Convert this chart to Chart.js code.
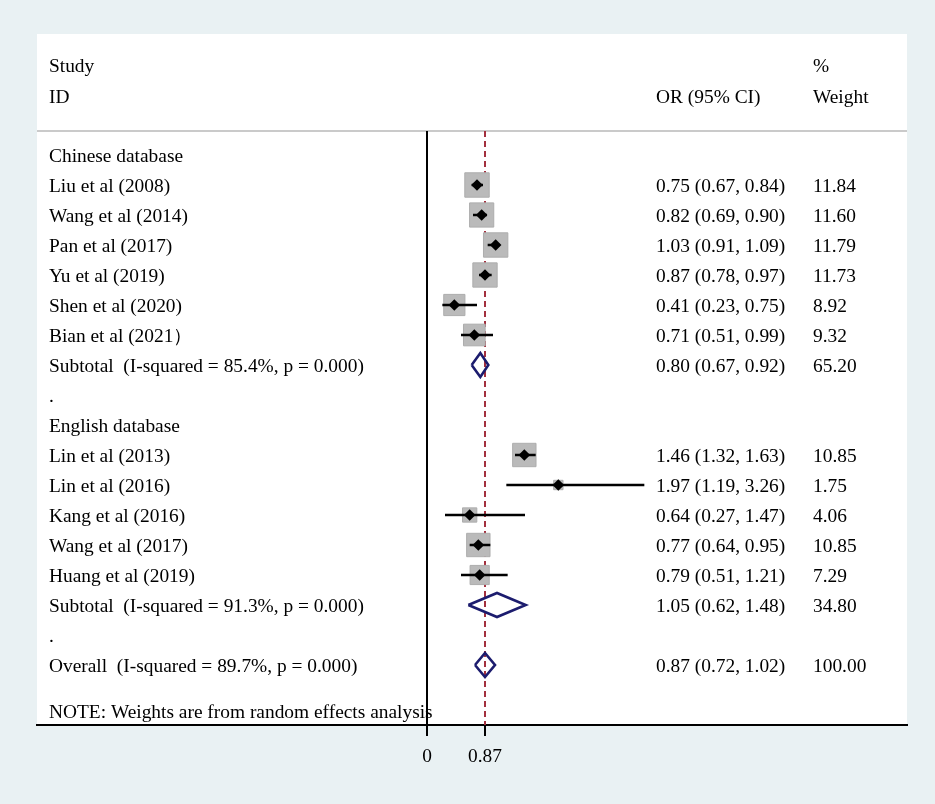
<!DOCTYPE html>
<html><head><meta charset="utf-8">
<script src="https://cdn.jsdelivr.net/npm/chart.js@4.4.1/dist/chart.umd.min.js"></script>
<style>html,body{margin:0;padding:0;background:#e9f1f3;overflow:hidden}canvas{display:block}</style>
</head><body>
<canvas id="c" width="935" height="804" style="width:935px;height:804px"></canvas>
<script>
// ---- data ----
const groupNames = ["Chinese database", "English database"];
const chineseStudies = ["Liu et al (2008)", "Wang et al (2014)", "Pan et al (2017)", "Yu et al (2019)", "Shen et al (2020)", "Bian et al (2021\uFF09"];
const chineseOR = [0.75, 0.82, 1.03, 0.87, 0.41, 0.71];
const chineseLo = [0.67, 0.69, 0.91, 0.78, 0.23, 0.51];
const chineseHi = [0.84, 0.90, 1.09, 0.97, 0.75, 0.99];
const chineseWeight = [11.84, 11.60, 11.79, 11.73, 8.92, 9.32];
const englishStudies = ["Lin et al (2013)", "Lin et al (2016)", "Kang et al (2016)", "Wang et al (2017)", "Huang et al (2019)"];
const englishOR = [1.46, 1.97, 0.64, 0.77, 0.79];
const englishLo = [1.32, 1.19, 0.27, 0.64, 0.51];
const englishHi = [1.63, 3.26, 1.47, 0.95, 1.21];
const englishWeight = [10.85, 1.75, 4.06, 10.85, 7.29];
const subtotalOR = [0.80, 1.05];
const subtotalLo = [0.67, 0.62];
const subtotalHi = [0.92, 1.48];
const subtotalWeight = [65.20, 34.80];
const subtotalI2 = ["85.4%", "91.3%"];
const subtotalP = ["0.000", "0.000"];
const overallOR = 0.87, overallLo = 0.72, overallHi = 1.02, overallWeight = 100.00;
const overallI2 = "89.7%", overallP = "0.000";
const xTicks = [0, 0.87];
const nullLine = 0;
const summaryLine = 0.87;

// ---- build rows ----
const rows = [];
const groups = [
  [chineseStudies, chineseOR, chineseLo, chineseHi, chineseWeight],
  [englishStudies, englishOR, englishLo, englishHi, englishWeight]
];
groups.forEach((g, gi) => {
  rows.push({label: groupNames[gi], type: 'head'});
  g[0].forEach((name, k) => rows.push({label: name, type: 'study', or: g[1][k], lo: g[2][k], hi: g[3][k], w: g[4][k]}));
  rows.push({label: 'Subtotal  (I-squared = ' + subtotalI2[gi] + ', p = ' + subtotalP[gi] + ')', type: 'pool',
    or: subtotalOR[gi], lo: subtotalLo[gi], hi: subtotalHi[gi], w: subtotalWeight[gi]});
  rows.push({label: '.', type: 'blank'});
});
rows.push({label: 'Overall  (I-squared = ' + overallI2 + ', p = ' + overallP + ')', type: 'pool',
  or: overallOR, lo: overallLo, hi: overallHi, w: overallWeight});

const studyRows = rows.map((r, i) => ({...r, i})).filter(r => r.type === 'study');
const poolRows = rows.map((r, i) => ({...r, i})).filter(r => r.type === 'pool');

const X_MIN = -5.85, X_MAX = 7.2, Y_MIN = -4.033, Y_MAX = 19.0, HEADER_Y = -0.8;

const datasets = [];
// pooled diamonds
poolRows.forEach(r => datasets.push({
  type: 'scatter', showLine: true, tension: 0, pointRadius: 0,
  borderColor: '#1c1c6e', borderWidth: 2.6, borderJoinStyle: 'miter',
  data: [{x: r.lo, y: r.i}, {x: r.or, y: r.i - 0.4}, {x: r.hi, y: r.i}, {x: r.or, y: r.i + 0.4}, {x: r.lo, y: r.i}]
}));
// point estimates
datasets.push({
  type: 'scatter', pointStyle: 'rectRot', pointRadius: 5.8, pointHoverRadius: 5.8,
  backgroundColor: '#000', borderColor: '#000', borderWidth: 0,
  data: studyRows.map(r => ({x: r.or, y: r.i}))
});
// confidence intervals
studyRows.forEach(r => datasets.push({
  type: 'scatter', showLine: true, pointRadius: 0, borderColor: '#000', borderWidth: 2.5,
  data: [{x: r.lo, y: r.i}, {x: r.hi, y: r.i}]
}));
// weight boxes
datasets.push({
  type: 'scatter', pointStyle: 'rect',
  pointRadius: studyRows.map(r => 7.1 * Math.sqrt(r.w) / Math.SQRT2),
  pointHoverRadius: studyRows.map(r => 7.1 * Math.sqrt(r.w) / Math.SQRT2),
  backgroundColor: '#bababa', borderColor: '#adadad', borderWidth: 1,
  data: studyRows.map(r => ({x: r.or, y: r.i}))
});
// summary dashed line
datasets.push({
  type: 'scatter', showLine: true, pointRadius: 0, borderColor: '#a3303e', borderWidth: 2, borderDash: [6, 4],
  data: [{x: summaryLine, y: HEADER_Y}, {x: summaryLine, y: Y_MAX}]
});
// null line
datasets.push({
  type: 'scatter', showLine: true, pointRadius: 0, borderColor: '#000', borderWidth: 2,
  data: [{x: nullLine, y: HEADER_Y}, {x: nullLine, y: Y_MAX}]
});
// header separator
datasets.push({
  type: 'scatter', showLine: true, pointRadius: 0, borderColor: '#cacaca', borderWidth: 2,
  data: [{x: X_MIN, y: HEADER_Y}, {x: X_MAX, y: HEADER_Y}]
});

const FONT = '19.4px "Liberation Serif", "Times New Roman", serif';
const textPlugin = {
  id: 'forestText',
  beforeDraw(chart) {
    const {ctx, chartArea: a} = chart;
    ctx.save();
    ctx.fillStyle = '#ffffff';
    ctx.fillRect(a.left, a.top, a.right - a.left, a.bottom - a.top);
    ctx.restore();
  },
  afterDatasetsDraw(chart) {
    const {ctx} = chart;
    const ys = chart.scales.y;
    ctx.save();
    ctx.font = FONT;
    ctx.fillStyle = '#000';
    ctx.textBaseline = 'middle';
    ctx.textAlign = 'left';
    const colStudy = 49, colOR = 656, colW = 813, dy = 2;
    ctx.fillText('Study', colStudy, 65 + dy);
    ctx.fillText('ID', colStudy, 96 + dy);
    ctx.fillText('OR (95% CI)', colOR, 96 + dy);
    ctx.fillText('%', colW, 65 + dy);
    ctx.fillText('Weight', colW, 96 + dy);
    rows.forEach((r, i) => {
      const y = ys.getPixelForValue(i) + dy;
      ctx.fillText(r.label, colStudy, y);
      if (r.or !== undefined) {
        ctx.fillText(r.or.toFixed(2) + ' (' + r.lo.toFixed(2) + ', ' + r.hi.toFixed(2) + ')', colOR, y);
        ctx.fillText(r.w.toFixed(2), colW, y);
      }
    });
    ctx.fillText('NOTE: Weights are from random effects analysis', colStudy, 711 + dy);
    ctx.restore();
  }
};

new Chart(document.getElementById('c'), {
  type: 'scatter',
  data: {datasets},
  options: {
    responsive: false, animation: false, devicePixelRatio: 1,
    events: [],
    layout: {padding: {left: 37, right: 28, top: 34, bottom: 0}},
    plugins: {legend: {display: false}, tooltip: {enabled: false}},
    scales: {
      x: {
        type: 'linear', min: X_MIN, max: X_MAX,
        afterBuildTicks: s => { s.ticks = xTicks.map(v => ({value: v})); },
        afterFit: s => { s.height = 79; },
        grid: {drawOnChartArea: false, drawTicks: true, tickLength: 11, color: '#000', lineWidth: 2},
        border: {display: true, color: '#000', width: 2},
        ticks: {color: '#000', font: {family: '"Liberation Serif"', size: 19.4}, padding: 9, maxRotation: 0, autoSkip: false,
          callback: v => String(v)}
      },
      y: {type: 'linear', min: Y_MIN, max: Y_MAX, reverse: true, display: false}
    }
  },
  plugins: [textPlugin]
});
</script>
</body></html>
